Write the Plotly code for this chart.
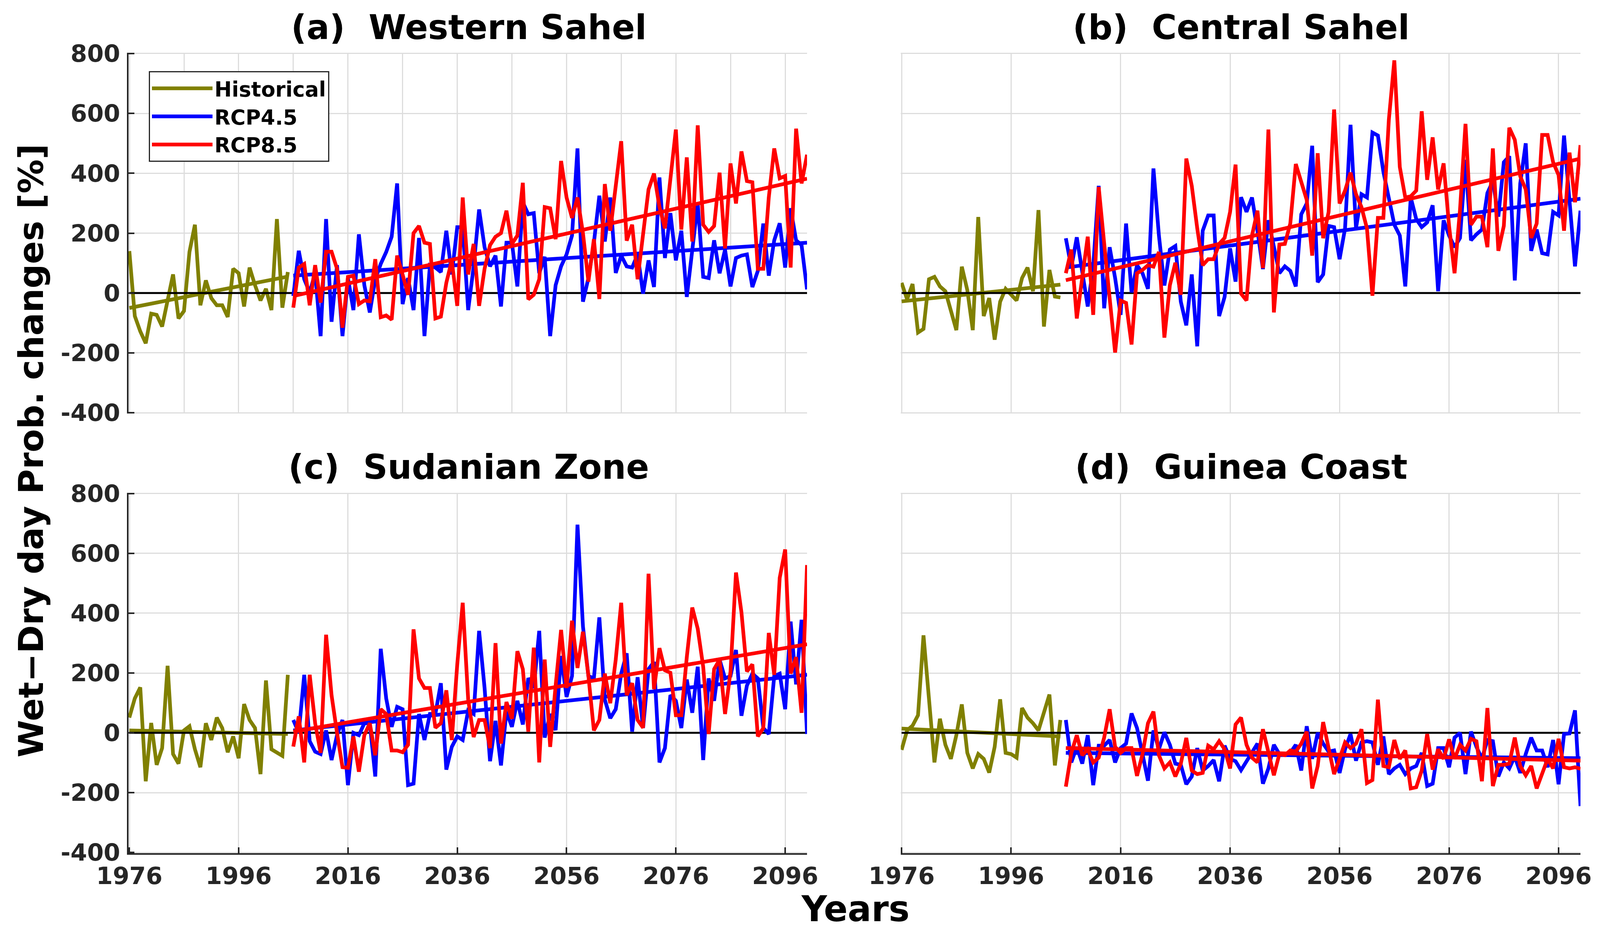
import plotly.graph_objects as go

hist_years = list(range(1976, 2006))
rcp_years = list(range(2006, 2101))
x_ticks = [1976, 1996, 2016, 2036, 2056, 2076, 2096]
y_ticks = [-400, -200, 0, 200, 400, 600, 800]
trend_hist_x = [1976, 2005]
trend_rcp_x = [2006, 2100]
zero_x = [1976, 2100]
zero_y = [0, 0]

# (a) Western Sahel
hist_a = [140, -77, -128, -168, -69, -73, -112, -30, 62, -85,
          -60, 137, 228, -41, 42, -17, -41, -41, -80, 81,
          66, -45, 85, 26, -25, 14, -57, 247, -49, 70]
rcp45_a = [-10, 141, 46, 2, 66, -144, 247, -96, 93, -144,
           50, -57, 196, 26, -65, 46, 97, 137, 188, 366,
           -37, 50, -57, 184, -144, 93, 85, 70, 208, 62,
           220, 220, -57, 89, 279, 153, 89, 125, -45, 168,
           168, 22, 303, 263, 267, 66, 121, -144, 26, 89,
           129, 192, 483, -29, 50, 168, 325, 172, 319, 67,
           125, 89, 85, 129, -2, 109, 20, 386, 117, 267,
           109, 208, -13, 153, 299, 54, 50, 176, 66, 145,
           22, 117, 125, 129, 20, 74, 232, 58, 176, 233,
           85, 283, 176, 160, 12]
rcp85_a = [-49, 85, 97, -41, 93, -32, 138, 138, 81, -116,
           54, 58, -37, -25, -28, 113, -81, -75, -89, 125,
           62, -6, 200, 224, 168, 164, -85, -79, 34, 109,
           -43, 319, 62, 164, -43, 81, 160, 188, 200, 275,
           164, 192, 368, -21, -6, 46, 287, 283, 180, 441,
           319, 251, 319, 200, 38, 180, -20, 364, 208, 366,
           507, 175, 228, 46, 192, 346, 399, 287, 216, 382,
           546, 212, 453, 172, 560, 228, 204, 224, 402, 149,
           433, 299, 473, 374, 370, 81, 81, 319, 483, 383,
           391, 85, 549, 366, 462]
trend_hist_a = [-50, 55]
trend_45_a = [58, 168]
trend_85_a = [-10, 382]

# (b) Central Sahel
hist_b = [34, -21, 30, -132, -120, 46, 54, 22, 6, -61,
          -124, 88, 10, -124, 254, -77, -17, -156, -29, 14,
          -6, -25, 50, 85, 6, 277, -112, 77, -12, -15]
rcp45_b = [183, 85, 186, 74, -45, 89, 358, -51, 153, 50,
           -73, 232, 2, 93, 66, 14, 416, 192, 25, 145,
           157, -29, -108, 62, -178, 208, 259, 259, -77, -13,
           149, 38, 320, 271, 319, 208, 80, 243, 153, 66,
           89, 74, 22, 263, 299, 492, 36, 62, 224, 220,
           113, 216, 562, 216, 330, 319, 536, 526, 405, 319,
           228, 192, 22, 319, 247, 220, 236, 293, 6, 243,
           192, 153, 184, 445, 176, 196, 212, 334, 374, 255,
           437, 457, 42, 366, 500, 141, 212, 133, 129, 271,
           259, 526, 319, 89, 275]
rcp85_b = [66, 145, -85, 58, 188, -73, 354, 166, -17, -199,
           -25, -33, -172, 66, 77, 93, 88, 137, -149, 26,
           101, -6, 449, 358, 216, 93, 113, 113, 164, 184,
           271, 429, -2, -25, 192, 275, 83, 546, -65, 162,
           164, 232, 431, 366, 311, 125, 467, 183, 271, 613,
           299, 342, 402, 330, 287, 216, -9, 251, 251, 579,
           777, 421, 319, 323, 342, 607, 378, 520, 346, 433,
           224, 66, 279, 565, 228, 255, 255, 153, 483, 141,
           224, 552, 512, 390, 346, 184, 232, 528, 528, 437,
           394, 208, 469, 303, 494]
trend_hist_b = [-28, 28]
trend_45_b = [85, 315]
trend_85_b = [43, 449]

# (c) Sudanian Zone
hist_c = [51, 115, 152, -162, 33, -107, -51, 224, -71, -103,
          8, 22, -55, -115, 32, -24, 51, 16, -65, -12,
          -85, 96, 43, 16, -138, 175, -55, -65, -77, 194]
rcp45_c = [43, 0, 194, -28, -63, -71, 8, -91, -8, 43,
           -175, 0, -8, 32, 32, -146, 281, 115, 20, 87,
           79, -175, -170, 63, -24, 63, 63, 166, -123, -47,
           -12, -24, 75, 63, 341, 150, -95, 40, -109, 71,
           20, 107, 28, 183, 150, 341, -16, 63, 9, 257,
           120, 190, 696, 356, 190, 182, 386, 111, 49, 79,
           198, 266, 4, 186, 16, 213, 237, -99, -51, 126,
           107, 16, 178, 67, 221, -91, 182, 107, 245, 182,
           190, 277, 57, 158, 198, 182, 16, -4, 190, 198,
           79, 372, 162, 378, -4]
rcp85_c = [-46, 55, -99, 194, 32, -67, 328, 126, 0, -115,
           -117, -12, -130, -8, 32, -75, 79, 63, -59, -59,
           -65, -40, 346, 182, 150, 150, 17, 32, 142, -24,
           229, 435, 111, -14, 43, 43, -51, 300, -36, 103,
           47, 273, 213, 4, 285, -99, 245, -47, 158, 344,
           150, 375, 217, 338, 190, 8, 43, 198, 99, 245,
           435, 126, 166, 43, 17, 532, 146, 283, 209, 201,
           59, 59, 253, 419, 348, 221, -4, 213, 245, 63,
           205, 536, 403, 205, 229, -12, 16, 334, 194, 518,
           613, 198, 253, 67, 561]
trend_hist_c = [8, -4]
trend_45_c = [8, 194]
trend_85_c = [4, 296]

# (d) Guinea Coast
hist_d = [-57, 8, 24, 59, 326, 115, -99, 47, -40, -87,
          -8, 95, -67, -119, -71, -87, -133, -47, 112, -67,
          -71, -83, 83, 51, 32, 8, 67, 128, -109, 43]
rcp45_d = [43, -99, -47, -103, -8, -175, -43, -43, -24, -99,
           -51, -36, 65, 16, -71, -160, 8, -55, 2, -40,
           -103, -107, -172, -146, -51, -126, -111, -91, -162, -43,
           -87, -95, -125, -95, -63, -36, -170, -119, -40, -71,
           -71, -67, -40, -126, 22, -87, 0, -36, -63, -59,
           -134, -55, -4, -93, -32, -28, -32, -107, -12, -138,
           -119, -107, -138, -119, -111, -67, -178, -170, -51, -51,
           -115, -16, 0, -138, 4, -47, -87, -24, -28, -146,
           -99, -119, -79, -134, -71, -16, -59, -59, -115, -24,
           -172, -4, -2, 75, -245]
rcp85_d = [-180, -67, -8, -75, -55, -99, -83, -16, 79, -47,
           -67, -51, -51, -144, -71, 32, 71, -75, -119, -99,
           -146, -103, -17, -126, -138, -134, -43, -55, -28, -55,
           -119, 28, 51, -40, -83, -99, 12, -71, -142, -71,
           -75, -59, -63, -36, 4, -186, -111, 36, -59, -138,
           -87, -32, -51, -36, 12, -168, -158, 111, -111, -115,
           -24, -87, -59, -186, -182, -126, -4, -123, -55, -87,
           -22, -87, -40, -59, -20, -28, -162, 83, -178, -107,
           -107, -103, -16, -111, -142, -111, -186, -134, -87, -119,
           -20, -115, -119, -115, -120]
trend_hist_d = [14, -12]
trend_45_d = [-67, -85]
trend_85_d = [-51, -93]

for s in [hist_a, hist_b, hist_c, hist_d]:
    assert len(s) == 30
for s in [rcp45_a, rcp85_a, rcp45_b, rcp85_b, rcp45_c, rcp85_c, rcp45_d, rcp85_d]:
    assert len(s) == 95

OLIVE = "#808000"
BLUE = "#0000ff"
RED = "#ff0000"
DARK = "#262626"
GRID = "#dddddd"
FONT = "DejaVu Sans"
W = 4107
H = 2400
LW = 9.5

panels = [
    ("(a)  Western Sahel", "x", "y", hist_a, rcp45_a, rcp85_a, trend_hist_a, trend_45_a, trend_85_a),
    ("(b)  Central Sahel", "x2", "y2", hist_b, rcp45_b, rcp85_b, trend_hist_b, trend_45_b, trend_85_b),
    ("(c)  Sudanian Zone", "x3", "y3", hist_c, rcp45_c, rcp85_c, trend_hist_c, trend_45_c, trend_85_c),
    ("(d)  Guinea Coast", "x4", "y4", hist_d, rcp45_d, rcp85_d, trend_hist_d, trend_45_d, trend_85_d),
]

fig = go.Figure()
for i, (title, xa, ya, hist, r45, r85, t_h, t_45, t_85) in enumerate(panels):
    first = i == 0
    fig.add_trace(go.Scatter(x=hist_years, y=hist, xaxis=xa, yaxis=ya, mode="lines", name="Historical",
                             line=dict(color=OLIVE, width=LW), showlegend=first))
    fig.add_trace(go.Scatter(x=trend_hist_x, y=t_h, xaxis=xa, yaxis=ya, mode="lines",
                             line=dict(color=OLIVE, width=LW), showlegend=False))
    fig.add_trace(go.Scatter(x=zero_x, y=zero_y, xaxis=xa, yaxis=ya, mode="lines",
                             line=dict(color="black", width=5), showlegend=False))
    fig.add_trace(go.Scatter(x=rcp_years, y=r45, xaxis=xa, yaxis=ya, mode="lines", name="RCP4.5",
                             line=dict(color=BLUE, width=LW), showlegend=first))
    fig.add_trace(go.Scatter(x=trend_rcp_x, y=t_45, xaxis=xa, yaxis=ya, mode="lines",
                             line=dict(color=BLUE, width=LW), showlegend=False))
    fig.add_trace(go.Scatter(x=rcp_years, y=r85, xaxis=xa, yaxis=ya, mode="lines", name="RCP8.5",
                             line=dict(color=RED, width=LW), showlegend=first))
    fig.add_trace(go.Scatter(x=trend_rcp_x, y=t_85, xaxis=xa, yaxis=ya, mode="lines",
                             line=dict(color=RED, width=LW), showlegend=False))


# slightly padded ranges so the grid lines at the ends are still drawn
def x_axis(left, bottom_row, dtick, anchor):
    ax = dict(domain=[left[0] / W, left[1] / W], range=[1975.85, 2100], tick0=1976, dtick=dtick,
              showgrid=True, gridcolor=GRID, gridwidth=3, zeroline=False, anchor=anchor,
              tickfont=dict(family=FONT, size=61, color=DARK, weight="bold"), tickangle=0)
    if bottom_row:
        ax.update(showline=True, linecolor=DARK, linewidth=4, ticks="inside", ticklen=15, tickwidth=4,
                  tickcolor=DARK, tickvals=x_ticks, ticktext=[str(v) for v in x_ticks], ticklabelstandoff=2)
    else:
        ax.update(showline=False, ticks="", showticklabels=False)
    return ax


def y_axis(top, labelled, anchor):
    ax = dict(domain=[1 - top[1] / H, 1 - top[0] / H], range=[-402.5, 802.5], tickvals=y_ticks,
              ticktext=[str(v) for v in y_ticks],
              showgrid=True, gridcolor=GRID, gridwidth=3, zeroline=False, anchor=anchor,
              tickfont=dict(family=FONT, size=61, color=DARK, weight="bold"))
    if labelled:
        ax.update(showline=True, linecolor=DARK, linewidth=4, ticks="inside", ticklen=15, tickwidth=4,
                  tickcolor=DARK, ticklabelstandoff=5)
    else:
        ax.update(showline=False, ticks="", showticklabels=False)
    return ax


LEFT = (329, 2066)
RIGHT = (2306, 4046)
TOP = (135, 1058)
BOTTOM = (1261, 2183)

annotations = []
title_pos = [(1200, 70), (3177, 70), (1200, 1195), (3177, 1195)]
for (p, pos) in zip(panels, title_pos):
    annotations.append(dict(text=p[0], x=pos[0] / W, y=1 - pos[1] / H, xref="paper", yref="paper",
                            xanchor="center", yanchor="middle", showarrow=False,
                            font=dict(family=FONT, size=87, color="black", weight="bold")))
annotations.append(dict(text="Years", x=2190 / W, y=1 - 2325 / H, xref="paper", yref="paper",
                        xanchor="center", yanchor="middle", showarrow=False,
                        font=dict(family=FONT, size=90, color="black", weight="bold")))
annotations.append(dict(text="Wet\u2212Dry day Prob. changes [%]", x=80 / W, y=1 - 1153 / H, xref="paper", yref="paper",
                        xanchor="center", yanchor="middle", showarrow=False, textangle=-90,
                        font=dict(family=FONT, size=87, color="black", weight="bold")))

fig.update_layout(
    width=W, height=H, margin=dict(l=0, r=0, t=0, b=0, autoexpand=False),
    paper_bgcolor="white", plot_bgcolor="white",
    xaxis=x_axis(LEFT, False, 10, "y"), yaxis=y_axis(TOP, True, "x"),
    xaxis2=x_axis(RIGHT, False, 20, "y2"), yaxis2=y_axis(TOP, False, "x2"),
    xaxis3=x_axis(LEFT, True, 20, "y3"), yaxis3=y_axis(BOTTOM, True, "x3"),
    xaxis4=x_axis(RIGHT, True, 20, "y4"), yaxis4=y_axis(BOTTOM, False, "x4"),
    annotations=annotations,
    legend=dict(x=381 / W, y=1 - 182 / H, xanchor="left", yanchor="top", bgcolor="white",
                bordercolor=DARK, borderwidth=3, itemwidth=155, tracegroupgap=0,
                entrywidth=302, entrywidthmode="pixels",
                font=dict(family=FONT, size=53, color="black", weight="bold")),
)

# the page's default body margin would push the figure 8px off
fig.write_html("out.html", post_script="document.body.style.margin='0';",
               config=dict(displayModeBar=False))
